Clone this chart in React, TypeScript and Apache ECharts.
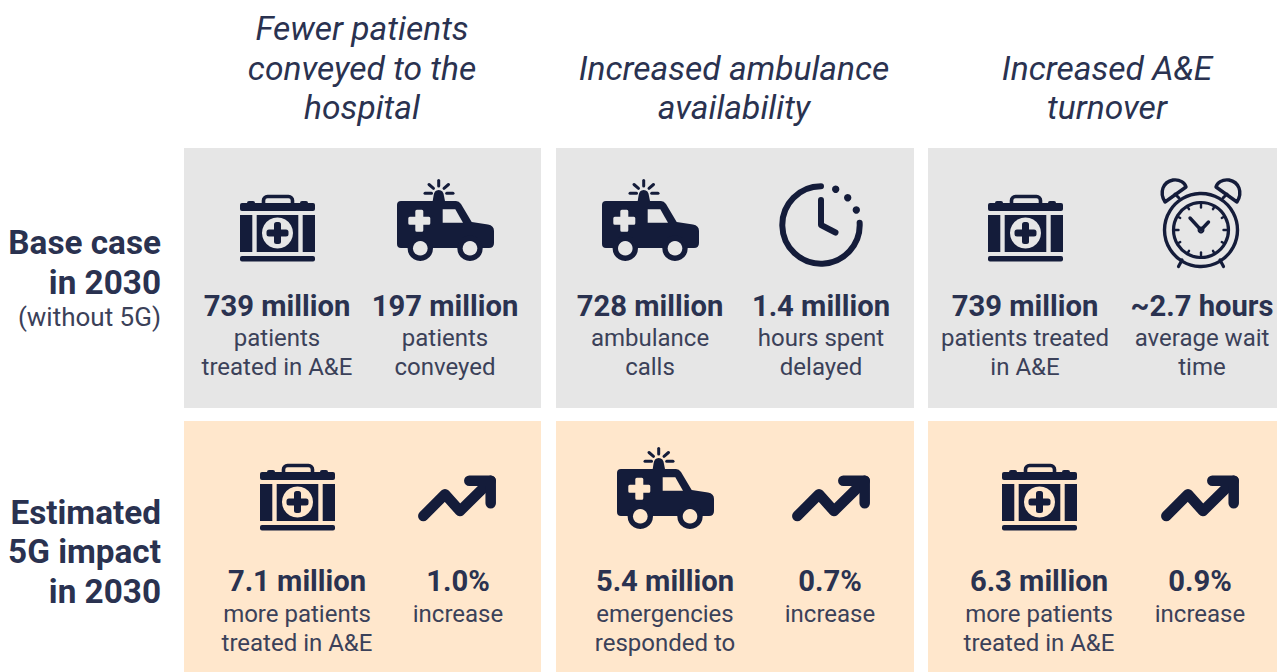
import React, { useEffect, useRef } from "react";
import * as echarts from "echarts";

const headers = [
  ["Fewer patients", "conveyed to the", "hospital"],
  ["Increased ambulance", "availability"],
  ["Increased A&E", "turnover"],
];
const baseRowLabel = ["Base case", "in 2030"];
const baseRowNote = "(without 5G)";
const impactRowLabel = ["Estimated", "5G impact", "in 2030"];
const baseValues = ["739 million", "197 million", "728 million", "1.4 million", "739 million", "~2.7 hours"];
const baseCaptions = [
  ["patients", "treated in A&E"],
  ["patients", "conveyed"],
  ["ambulance", "calls"],
  ["hours spent", "delayed"],
  ["patients treated", "in A&E"],
  ["average wait", "time"],
];
const impactValues = ["7.1 million", "1.0%", "5.4 million", "0.7%", "6.3 million", "0.9%"];
const impactCaptions = [
  ["more patients", "treated in A&E"],
  ["increase"],
  ["emergencies", "responded to"],
  ["increase"],
  ["more patients", "treated in A&E"],
  ["increase"],
];

const NAVY = "#141C3A";
const TEXT = "#2A3250";
const BODY = "#3B4159";
const GREY = "#E6E6E6";
const PEACH = "#FFE7CC";
const FONT = "Roboto";

const headerX = [362, 734, 1107];
const headerYs = [[28.5, 68.5, 107.5], [68.5, 107.5], [68.5, 107.5]];
const baseX = [277, 445, 650, 821, 1025, 1202];
const impactX = [297, 458, 665, 830, 1039, 1200];

echarts.graphic.registerShape(
  "ambBody",
  echarts.graphic.extendPath(
    "M4,22 L59,22 Q62,22 64,25 L74.7,43 L91,45.5 Q97,46.5 97,52 L97,64 Q97,69 92,69 L4,69 Q0,69 0,65 L0,26 Q0,22 4,22 Z M35.7,22 L36.5,17 Q37,11 41.7,11 Q46.5,11 47,17 L48,22 Z",
    {}
  )
);
echarts.graphic.registerShape(
  "bellPair",
  echarts.graphic.extendPath(
    "M25,32 C19,22 23,12 33,10 C40,9 45,13 46,17 Z M97,32 C103,22 99,12 89,10 C82,9 77,13 76,17 Z",
    {}
  )
);

const rect = (x: number, y: number, width: number, height: number, fill: string, r = 0) => ({
  type: "rect",
  shape: { x, y, width, height, r },
  style: { fill },
});
const seg = (points: number[][], lineWidth: number, color = NAVY) => ({
  type: "polyline",
  shape: { points },
  style: { stroke: color, lineWidth, fill: "none", lineCap: "round", lineJoin: "round" },
});

const kit = (x: number, y: number, bg: string) => ({
  type: "group",
  x,
  y,
  children: [
    { type: "rect", shape: { x: 23.5, y: 1.5, width: 29, height: 12, r: 4 }, style: { fill: "none", stroke: NAVY, lineWidth: 3.6 } },
    rect(7, 6, 8, 5, NAVY, 2),
    rect(60, 6, 8, 5, NAVY, 2),
    rect(0, 8, 75, 8, NAVY, 2),
    rect(0, 20, 12.3, 37, NAVY),
    rect(16.7, 20, 41.6, 37, NAVY),
    rect(62.7, 20, 12.3, 37, NAVY),
    rect(0, 61, 75, 5.5, NAVY, 2),
    { type: "circle", shape: { cx: 37.5, cy: 38, r: 15.5 }, style: { fill: bg } },
    rect(26.5, 34.5, 22, 7, NAVY, 2.5),
    rect(34, 27, 7, 22, NAVY, 2.5),
  ],
});

const ambulance = (x: number, y: number, bg: string) => ({
  type: "group",
  x,
  y,
  children: [
    { type: "ambBody", style: { fill: NAVY } },
    { type: "polygon", shape: { points: [[45.7, 30.3], [58.3, 30.3], [66, 43.7], [45.7, 43.7]] }, style: { fill: bg } },
    rect(11.3, 37.7, 22, 8, bg, 1.5),
    rect(18.3, 30.7, 8, 22, bg, 1.5),
    { type: "circle", shape: { cx: 23.3, cy: 69.3, r: 12.7 }, style: { fill: NAVY } },
    { type: "circle", shape: { cx: 23.3, cy: 69.3, r: 7.3 }, style: { fill: bg } },
    { type: "circle", shape: { cx: 73, cy: 69.3, r: 12.7 }, style: { fill: NAVY } },
    { type: "circle", shape: { cx: 73, cy: 69.3, r: 7.3 }, style: { fill: bg } },
    seg([[41.7, 1.5], [41.7, 7]], 3),
    seg([[32, 5.5], [36.5, 9.3]], 3),
    seg([[51.5, 5.5], [47, 9.3]], 3),
    seg([[28, 14.3], [34.5, 14.3]], 3),
    seg([[49.7, 14.3], [56, 14.3]], 3),
  ],
});

const trend = (x: number, y: number) => ({
  type: "group",
  x,
  y,
  children: [
    seg([[5.3, 41], [27, 19.3], [42, 36], [72.7, 5.7]], 10.5),
    seg([[51.3, 5.7], [72.7, 5.7], [72.7, 28.3]], 10.5),
  ],
});

const clock = () => ({
  type: "group",
  x: 821,
  y: 225,
  children: [
    {
      type: "arc",
      shape: { cx: 0, cy: 0, r: 38.7, startAngle: -0.06, endAngle: (3 * Math.PI) / 2, clockwise: true },
      style: { stroke: NAVY, lineWidth: 6, fill: "none", lineCap: "round" },
    },
    { type: "circle", shape: { cx: 14.7, cy: -35.7, r: 3.7 }, style: { fill: NAVY } },
    { type: "circle", shape: { cx: 26.7, cy: -27.3, r: 3.7 }, style: { fill: NAVY } },
    { type: "circle", shape: { cx: 35.3, cy: -15, r: 3.7 }, style: { fill: NAVY } },
    seg([[0, -25], [0, 0], [14.5, 7.5]], 6),
  ],
});

const alarm = () => {
  const ticks: any[] = [];
  for (let i = 0; i < 12; i++) {
    const a = (i * Math.PI) / 6;
    const s = Math.sin(a);
    const c = Math.cos(a);
    const inner = i % 3 === 0 ? 22.5 : 24;
    ticks.push(seg([[61 + inner * s, 60 - inner * c], [61 + 26.5 * s, 60 - 26.5 * c]], 2.4));
  }
  return {
    type: "group",
    x: 1140,
    y: 170,
    children: [
      { type: "circle", shape: { cx: 61, cy: 60, r: 36.5 }, style: { fill: "none", stroke: NAVY, lineWidth: 3.4 } },
      { type: "circle", shape: { cx: 61, cy: 60, r: 27.5 }, style: { fill: "none", stroke: NAVY, lineWidth: 3.2 } },
      { type: "bellPair", style: { fill: "none", stroke: NAVY, lineWidth: 3.4, lineJoin: "round" } },
      seg([[35, 24], [39, 28]], 3),
      seg([[87, 24], [83, 28]], 3),
      seg([[42, 90], [38.5, 96.5]], 3.2),
      seg([[80, 90], [83.5, 96.5]], 3.2),
      ...ticks,
      seg([[50, 48], [61, 60], [68.5, 52]], 3.4),
      { type: "circle", shape: { cx: 61, cy: 60, r: 2.5 }, style: { fill: "none", stroke: NAVY, lineWidth: 2 } },
    ],
  };
};

const txt = (
  text: string,
  x: number,
  y: number,
  size: number,
  fill: string,
  opts: { weight?: any; italic?: boolean; align?: string } = {}
) => ({
  type: "text",
  x,
  y,
  style: {
    text,
    fill,
    fontFamily: FONT,
    fontSize: size,
    fontWeight: opts.weight ?? 400,
    fontStyle: opts.italic ? "italic" : "normal",
    align: opts.align ?? "center",
    verticalAlign: "middle",
  },
});

function buildElements() {
  const els: any[] = [];
  const panels = [[184, 357], [556, 358], [928, 349]];
  panels.forEach(([x, w]) => {
    els.push(rect(x, 148, w, 260, GREY));
    els.push(rect(x, 421, w, 251, PEACH));
  });
  headers.forEach((lines, i) =>
    lines.forEach((l, j) => els.push(txt(l, headerX[i], headerYs[i][j], 33.6, TEXT, { italic: true, weight: 400 })))
  );
  baseRowLabel.forEach((l, i) => els.push(txt(l, 161, 242 + i * 40, 33.3, TEXT, { weight: 700, align: "right" })));
  els.push(txt(baseRowNote, 161, 317, 26, BODY, { align: "right" }));
  impactRowLabel.forEach((l, i) => els.push(txt(l, 161, 512 + i * 39.8, 33.3, TEXT, { weight: 700, align: "right" })));

  baseValues.forEach((v, i) => {
    els.push(txt(v, baseX[i], 306, 29.2, TEXT, { weight: 700 }));
    baseCaptions[i].forEach((c, j) => els.push(txt(c, baseX[i], 338 + j * 29, 24, BODY)));
  });
  impactValues.forEach((v, i) => {
    els.push(txt(v, impactX[i], 581, 29.2, TEXT, { weight: 700 }));
    impactCaptions[i].forEach((c, j) => els.push(txt(c, impactX[i], 614 + j * 29, 24, BODY)));
  });

  els.push(kit(240, 195, GREY), ambulance(397, 179, GREY), ambulance(602, 179, GREY), clock(), kit(988, 195, GREY), alarm());
  els.push(kit(260, 464, PEACH), trend(418, 475), ambulance(617, 447, PEACH), trend(792, 475), kit(1002, 464, PEACH), trend(1161, 475));
  return els;
}

export default function App() {
  const ref = useRef<HTMLDivElement>(null);
  useEffect(() => {
    document.body.style.margin = "0";
    document.body.style.overflow = "hidden";
    const chart = echarts.init(ref.current!, null, { renderer: "svg" });
    chart.setOption({
      animation: false,
      backgroundColor: "#FFFFFF",
      graphic: { elements: buildElements() },
    });
    return () => chart.dispose();
  }, []);
  return <div ref={ref} style={{ width: 1277, height: 672 }} />;
}
